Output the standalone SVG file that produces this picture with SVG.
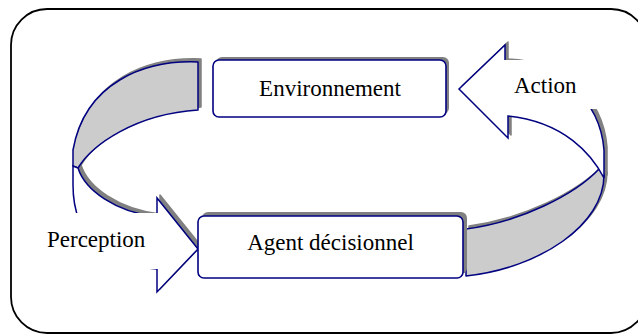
<svg xmlns="http://www.w3.org/2000/svg" width="638" height="334" viewBox="0 0 638 334">
<defs>
<style>
.frame{fill:#ffffff;stroke:#000000;stroke-width:1.8}
.shadow{fill:#808080;stroke:#808080;stroke-width:1.5;stroke-linejoin:round}
.back{fill:#cccccc;stroke:#000080;stroke-width:1.5;stroke-linejoin:round}
.front{fill:#ffffff;stroke:#000080;stroke-width:1.5;stroke-linejoin:miter}
.box{fill:#ffffff;stroke:#000080;stroke-width:1.6}
.boxshadow{fill:#808080}
.lblbg{fill:#ffffff;stroke:none}
.t{font-family:"Liberation Serif","Times New Roman",serif;font-size:23px;fill:#000000}
</style>
</defs>
<rect class="frame" x="11" y="9" width="636" height="324" rx="36" ry="36"/>
<g id="connectors">
  <g id="arrow-perception">
    <g transform="translate(3,-3)">
      <path class="shadow" d="M198,62 C145,60 85,82 73,150 L73,166 L78,168 C92,145 135,114 198,110 Z"/>
      <path class="shadow" d="M78,168 C85,190 115,212 157,217 L157,198 L198,249 L157,292 L157,269 C110,266 73,240 73,185 L73,166 Z"/>
    </g>
    <path class="back" d="M198,62 C145,60 85,82 73,150 L73,166 L78,168 C92,145 135,114 198,110 Z"/>
    <path class="front" d="M78,168 C85,190 115,212 157,217 L157,198 L198,249 L157,292 L157,269 C110,266 73,240 73,185 L73,166 Z"/>
    <rect class="lblbg" x="30" y="213" width="129" height="56"/>
    <text class="t" x="47" y="247">Perception</text>
  </g>
  <g id="arrow-action">
    <g transform="translate(3,-3)">
      <path class="shadow" d="M466,229 C520,222 575,195 600,168 L604,175 C604,225 540,268 466,276 Z"/>
      <path class="shadow" d="M508,116 L508,138 L459,89 L505,45 L505,62 C560,64 600,100 604,150 L604,178 C592,155 565,122 508,116 Z"/>
    </g>
    <path class="back" d="M466,229 C520,222 575,195 600,168 L604,175 C604,225 540,268 466,276 Z"/>
    <path class="front" d="M508,116 L508,138 L459,89 L505,45 L505,62 C560,64 600,100 604,150 L604,178 C592,155 565,122 508,116 Z"/>
    <rect class="lblbg" x="504" y="60" width="112" height="49"/>
    <text class="t" x="514" y="93">Action</text>
  </g>
</g>
<g id="node-environnement">
  <rect class="boxshadow" x="216" y="57" width="233" height="57" rx="6"/>
  <rect class="box" x="213" y="60" width="233" height="57" rx="6"/>
  <text class="t" x="330" y="96" text-anchor="middle">Environnement</text>
</g>
<g id="node-agent">
  <rect class="boxshadow" x="202" y="212" width="265" height="62" rx="6"/>
  <rect class="box" x="198" y="216" width="265" height="62" rx="6"/>
  <text class="t" x="330.5" y="250" text-anchor="middle">Agent décisionnel</text>
</g>
</svg>
